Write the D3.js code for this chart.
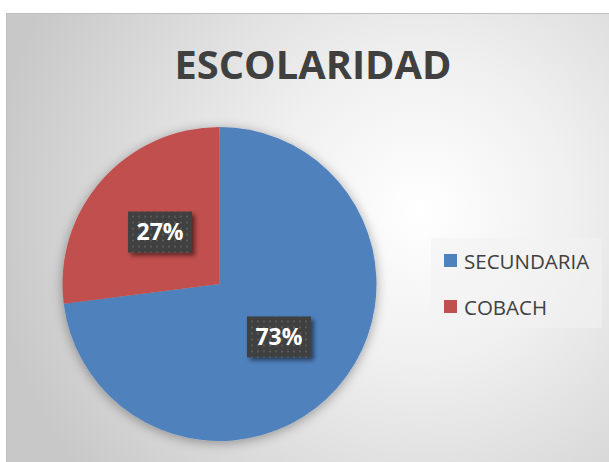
<!DOCTYPE html>
<html>
<head>
<meta charset="utf-8" />
<title>ESCOLARIDAD</title>
<script src="https://cdn.jsdelivr.net/npm/d3@7"></script>
<style>
  body { margin: 0; background: #ffffff; }
  svg { display: block; }
</style>
</head>
<body>
<script>
  // data
  var categories = ["SECUNDARIA", "COBACH"];
  var values = [73, 27];
  var colors = ["#4f81bd", "#c0504d"];
  var title = "ESCOLARIDAD";

  var width = 609, height = 462;
  var cx = 219.5, cy = 284, radius = 157;

  var svg = d3.select("body").append("svg")
      .attr("width", width)
      .attr("height", height);

  var defs = svg.append("defs");

  // chart area background (radial grey -> white)
  var bg = defs.append("radialGradient")
      .attr("id", "bgGrad")
      .attr("gradientUnits", "userSpaceOnUse")
      .attr("cx", 420).attr("cy", 210).attr("r", 430);
  bg.append("stop").attr("offset", "0%").attr("stop-color", "#ffffff");
  bg.append("stop").attr("offset", "35%").attr("stop-color", "#f0f0f0");
  bg.append("stop").attr("offset", "100%").attr("stop-color", "#c8c8c8");

  // soft shadow under the pie
  var sh = defs.append("filter").attr("id", "pieShadow")
      .attr("x", "-20%").attr("y", "-20%").attr("width", "140%").attr("height", "140%");
  sh.append("feGaussianBlur").attr("in", "SourceAlpha").attr("stdDeviation", 6).attr("result", "b");
  sh.append("feOffset").attr("in", "b").attr("dx", 0).attr("dy", 2).attr("result", "o");
  sh.append("feComponentTransfer").attr("in", "o").attr("result", "s")
    .append("feFuncA").attr("type", "linear").attr("slope", 0.35);
  var m = sh.append("feMerge");
  m.append("feMergeNode").attr("in", "s");
  m.append("feMergeNode").attr("in", "SourceGraphic");

  // label box shadow
  var bs = defs.append("filter").attr("id", "boxShadow")
      .attr("x", "-30%").attr("y", "-30%").attr("width", "160%").attr("height", "170%");
  bs.append("feGaussianBlur").attr("in", "SourceAlpha").attr("stdDeviation", 2).attr("result", "b");
  bs.append("feOffset").attr("in", "b").attr("dx", 3).attr("dy", 3).attr("result", "o");
  bs.append("feComponentTransfer").attr("in", "o").attr("result", "s")
    .append("feFuncA").attr("type", "linear").attr("slope", 0.5);
  var m2 = bs.append("feMerge");
  m2.append("feMergeNode").attr("in", "s");
  m2.append("feMergeNode").attr("in", "SourceGraphic");

  // dotted dark pattern for data labels
  var pat = defs.append("pattern")
      .attr("id", "dots")
      .attr("width", 6).attr("height", 6)
      .attr("patternUnits", "userSpaceOnUse");
  pat.append("rect").attr("width", 6).attr("height", 6).attr("fill", "#3f3f3f");
  pat.append("rect").attr("x", 2).attr("y", 2).attr("width", 2).attr("height", 2).attr("fill", "#5a5a5a");

  // chart area
  svg.append("rect")
      .attr("x", 6.5).attr("y", 13.5)
      .attr("width", width).attr("height", height)
      .attr("fill", "url(#bgGrad)")
      .attr("stroke", "#bfbfbf")
      .attr("stroke-width", 1);

  // title
  svg.append("text")
      .attr("x", 313).attr("y", 79)
      .attr("text-anchor", "middle")
      .attr("textLength", 277)
      .attr("lengthAdjust", "spacingAndGlyphs")
      .style("font-family", "'Open Sans', sans-serif")
      .style("font-weight", "bold")
      .style("font-size", "39px")
      .attr("fill", "#404040")
      .text(title);

  // pie
  var pie = d3.pie().sort(null).value(function(d) { return d; });
  var arcs = pie(values);
  var arc = d3.arc().innerRadius(0).outerRadius(radius);

  var g = svg.append("g").attr("transform", "translate(" + cx + "," + cy + ")");

  g.append("g").attr("filter", "url(#pieShadow)")
    .selectAll("path")
    .data(arcs)
    .enter().append("path")
      .attr("d", arc)
      .attr("fill", function(d, i) { return colors[i]; });

  // data labels
  var total = d3.sum(values);
  var labelArc = d3.arc().innerRadius(radius * 0.505).outerRadius(radius * 0.505);
  var lbl = g.selectAll("g.lbl")
      .data(arcs)
      .enter().append("g")
      .attr("class", "lbl")
      .attr("transform", function(d) {
        var c = labelArc.centroid(d);
        return "translate(" + c[0] + "," + c[1] + ")";
      });

  lbl.append("rect")
      .attr("x", -32).attr("y", -20)
      .attr("width", 64).attr("height", 41)
      .attr("fill", "url(#dots)")
      .attr("filter", "url(#boxShadow)");

  lbl.append("text")
      .attr("text-anchor", "middle")
      .attr("y", 8.5)
      .style("font-family", "'Open Sans', sans-serif")
      .style("font-weight", "bold")
      .style("font-size", "23px")
      .attr("fill", "#ffffff")
      .text(function(d) { return Math.round(d.value / total * 100) + "%"; });

  // legend
  var legend = svg.append("g");
  legend.append("rect")
      .attr("x", 431).attr("y", 238)
      .attr("width", 171).attr("height", 90)
      .attr("fill", "#f2f2f2")
      .attr("fill-opacity", 0.55);

  var ly = d3.scalePoint().domain(categories).range([261, 307]);
  var items = legend.selectAll("g.item")
      .data(categories)
      .enter().append("g")
      .attr("class", "item")
      .attr("transform", function(d) { return "translate(444," + ly(d) + ")"; });

  items.append("rect")
      .attr("x", 0).attr("y", -7)
      .attr("width", 13).attr("height", 13)
      .attr("fill", function(d, i) { return colors[i]; });

  items.append("text")
      .attr("x", 20).attr("y", 7.5)
      .style("font-family", "'Open Sans', sans-serif")
      .style("font-size", "20.5px")
      .attr("fill", "#404040")
      .text(function(d) { return d; });
</script>
</body>
</html>
